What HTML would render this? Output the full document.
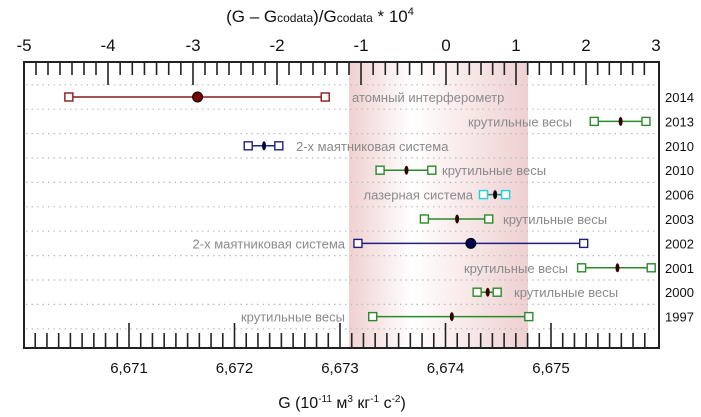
<!DOCTYPE html>
<html><head><meta charset="utf-8"><style>
body{margin:0;background:#fff;}
svg{display:block;font-family:"Liberation Sans",sans-serif;}
</style></head><body>
<svg id="c" width="701" height="417" viewBox="0 0 701 417">
<defs>
<linearGradient id="band" x1="0" x2="1" y1="0" y2="0">
<stop offset="0" stop-color="#f0d0d0"/><stop offset="0.35" stop-color="#fff"/><stop offset="0.55" stop-color="#fbf0f0"/><stop offset="1" stop-color="#eed0d0"/>
</linearGradient>
</defs>
<rect x="349" y="62" width="179" height="286" fill="url(#band)"/>
<g id="grid"></g>
<g id="ticks"></g>
<rect x="24" y="62" width="635" height="286" fill="none" stroke="#222" stroke-width="2"/>
<g id="marks"></g>
<text x="320" y="22" font-size="17" text-anchor="middle" fill="#111">(G – G<tspan font-size="12">codata</tspan>)/G<tspan font-size="12">codata</tspan> * 10<tspan font-size="11" dy="-7">4</tspan></text>
<text x="342" y="408" font-size="16" text-anchor="middle" fill="#111">G (10<tspan font-size="10" dy="-6">-11</tspan><tspan dy="6"> м</tspan><tspan font-size="10" dy="-6">3</tspan><tspan dy="6"> кг</tspan><tspan font-size="10" dy="-6">-1</tspan><tspan dy="6"> с</tspan><tspan font-size="10" dy="-6">-2</tspan><tspan dy="6">)</tspan></text>
</svg>
<script>
const years=["2014","2013","2010","2010","2006","2003","2002","2001","2000","1997"];
const lows=[6.67043,6.67541,6.67213,6.67338,6.67436,6.67380,6.67317,6.67529,6.67430,6.67331];
const centers=[6.67165,6.67566,6.67228,6.67363,6.67447,6.67411,6.67424,6.67563,6.67440,6.67406];
const highs=[6.67286,6.67590,6.67242,6.67387,6.67457,6.67441,6.67531,6.67595,6.67449,6.67479];
const methods=["атомный интерферометр","крутильные весы","2-х маятниковая система","крутильные весы","лазерная система","крутильные весы","2-х маятниковая система","крутильные весы","крутильные весы","крутильные весы"];
const bottomTicks=["6,671","6,672","6,673","6,674","6,675"];
const bottomTickVals=[6.671,6.672,6.673,6.674,6.675];
const topTicks=["-5","-4","-3","-2","-1","0","1","2","3"];
const NS="http://www.w3.org/2000/svg";
const svg=document.getElementById('c');
function el(t,a,p){const e=document.createElementNS(NS,t);for(const k in a)e.setAttribute(k,a[k]);(p||svg).appendChild(e);return e;}
function xB(g){return 340+(g-6.673)*105500;}
function yRow(i){return 97+i*24.4;}
const topPos=[24,108,193,277,361,446,516,586,656];
const styles=[
 {c:"#8b1a1a",cen:"circle",cc:"#7a0000",lbl:"right",lx:352},
 {c:"#2a8a2a",cen:"ell",cc:"#300",lbl:"left",lx:572},
 {c:"#202080",cen:"ell",cc:"#000040",lbl:"right",lx:296},
 {c:"#2a8a2a",cen:"ell",cc:"#300",lbl:"right",lx:442},
 {c:"#20d0e0",cen:"ell",cc:"#000",lbl:"left",lx:473,line:"#208a8a"},
 {c:"#2a8a2a",cen:"ell",cc:"#300",lbl:"right",lx:503},
 {c:"#202080",cen:"circle",cc:"#000050",lbl:"left",lx:345},
 {c:"#2a8a2a",cen:"ell",cc:"#300",lbl:"left",lx:568},
 {c:"#2a8a2a",cen:"ell",cc:"#300",lbl:"right",lx:514},
 {c:"#2a8a2a",cen:"ell",cc:"#300",lbl:"left",lx:345}
];
const grid=document.getElementById('grid');
for(let i=0;i<=years.length;i++){
 const y=yRow(i)-12.2;
 const l=el('line',{x1:26,x2:657,y1:y,y2:y,stroke:"#bbb","stroke-width":1.2,"stroke-dasharray":"1.5 4"},grid);
 
 
}
const tk=document.getElementById('ticks');
for(let k=-2;k<=54;k++){
 const x=xB(6.670)+k*105.5/9;
 if(x<27||x>656)continue;
 const major=(k%9===0);
 const t=el('line',{x1:x,x2:x,y1:348,y2:major?323:333,stroke:"#222","stroke-width":1.6},tk);
 
 
}
bottomTicks.forEach((s,i)=>{
 const t=el('text',{x:xB(bottomTickVals[i]),y:373,"font-size":15,"text-anchor":"middle",fill:"#111"});
 t.textContent=s;
 
 
});
for(let i=0;i<topPos.length;i++){
 if(i>0&&i<topPos.length-1){
  const t=el('line',{x1:topPos[i],x2:topPos[i],y1:62,y2:85,stroke:"#222","stroke-width":1.6},tk);
  
  
 }
 if(i<topPos.length-1){
  const n=i<5?7:6;
  for(let j=1;j<n;j++){
   const x=topPos[i]+(topPos[i+1]-topPos[i])*j/n;
   const t=el('line',{x1:x,x2:x,y1:62,y2:75,stroke:"#222","stroke-width":1.6},tk);
   
   
  }
 }
 const lb=el('text',{x:topPos[i],y:51,"font-size":17,"text-anchor":"middle",fill:"#111"});
 lb.textContent=topTicks[i];
 
 
}
const mk=document.getElementById('marks');
years.forEach((yr,i)=>{
 const s=styles[i],y=yRow(i);
 const x0=xB(lows[i]),x1=xB(highs[i]),xc=xB(centers[i]);
 const g=el('g',{},mk);
 
 
 el('line',{x1:x0,x2:x1,y1:y,y2:y,stroke:s.line||s.c,"stroke-width":1.5},g);
 el('rect',{x:x0-4,y:y-4,width:8,height:8,fill:"#fff",stroke:s.c,"stroke-width":1.4},g);
 el('rect',{x:x1-4,y:y-4,width:8,height:8,fill:"#fff",stroke:s.c,"stroke-width":1.4},g);
 if(s.cen==="circle")el('circle',{cx:xc,cy:y,r:5,fill:s.cc,stroke:"#000","stroke-width":1},g);
 else el('ellipse',{cx:xc,cy:y,rx:2,ry:4.5,fill:s.cc},g);
 const lt=el('text',{x:s.lx,y:y+5,"font-size":13,fill:"#8a8a8a","text-anchor":s.lbl==="left"?"end":"start"});
 lt.textContent=methods[i];
 
 
 const yt=el('text',{x:665,y:y+5,"font-size":13,fill:"#111"});
 yt.textContent=yr;
 
 
});
</script>
</body></html>
